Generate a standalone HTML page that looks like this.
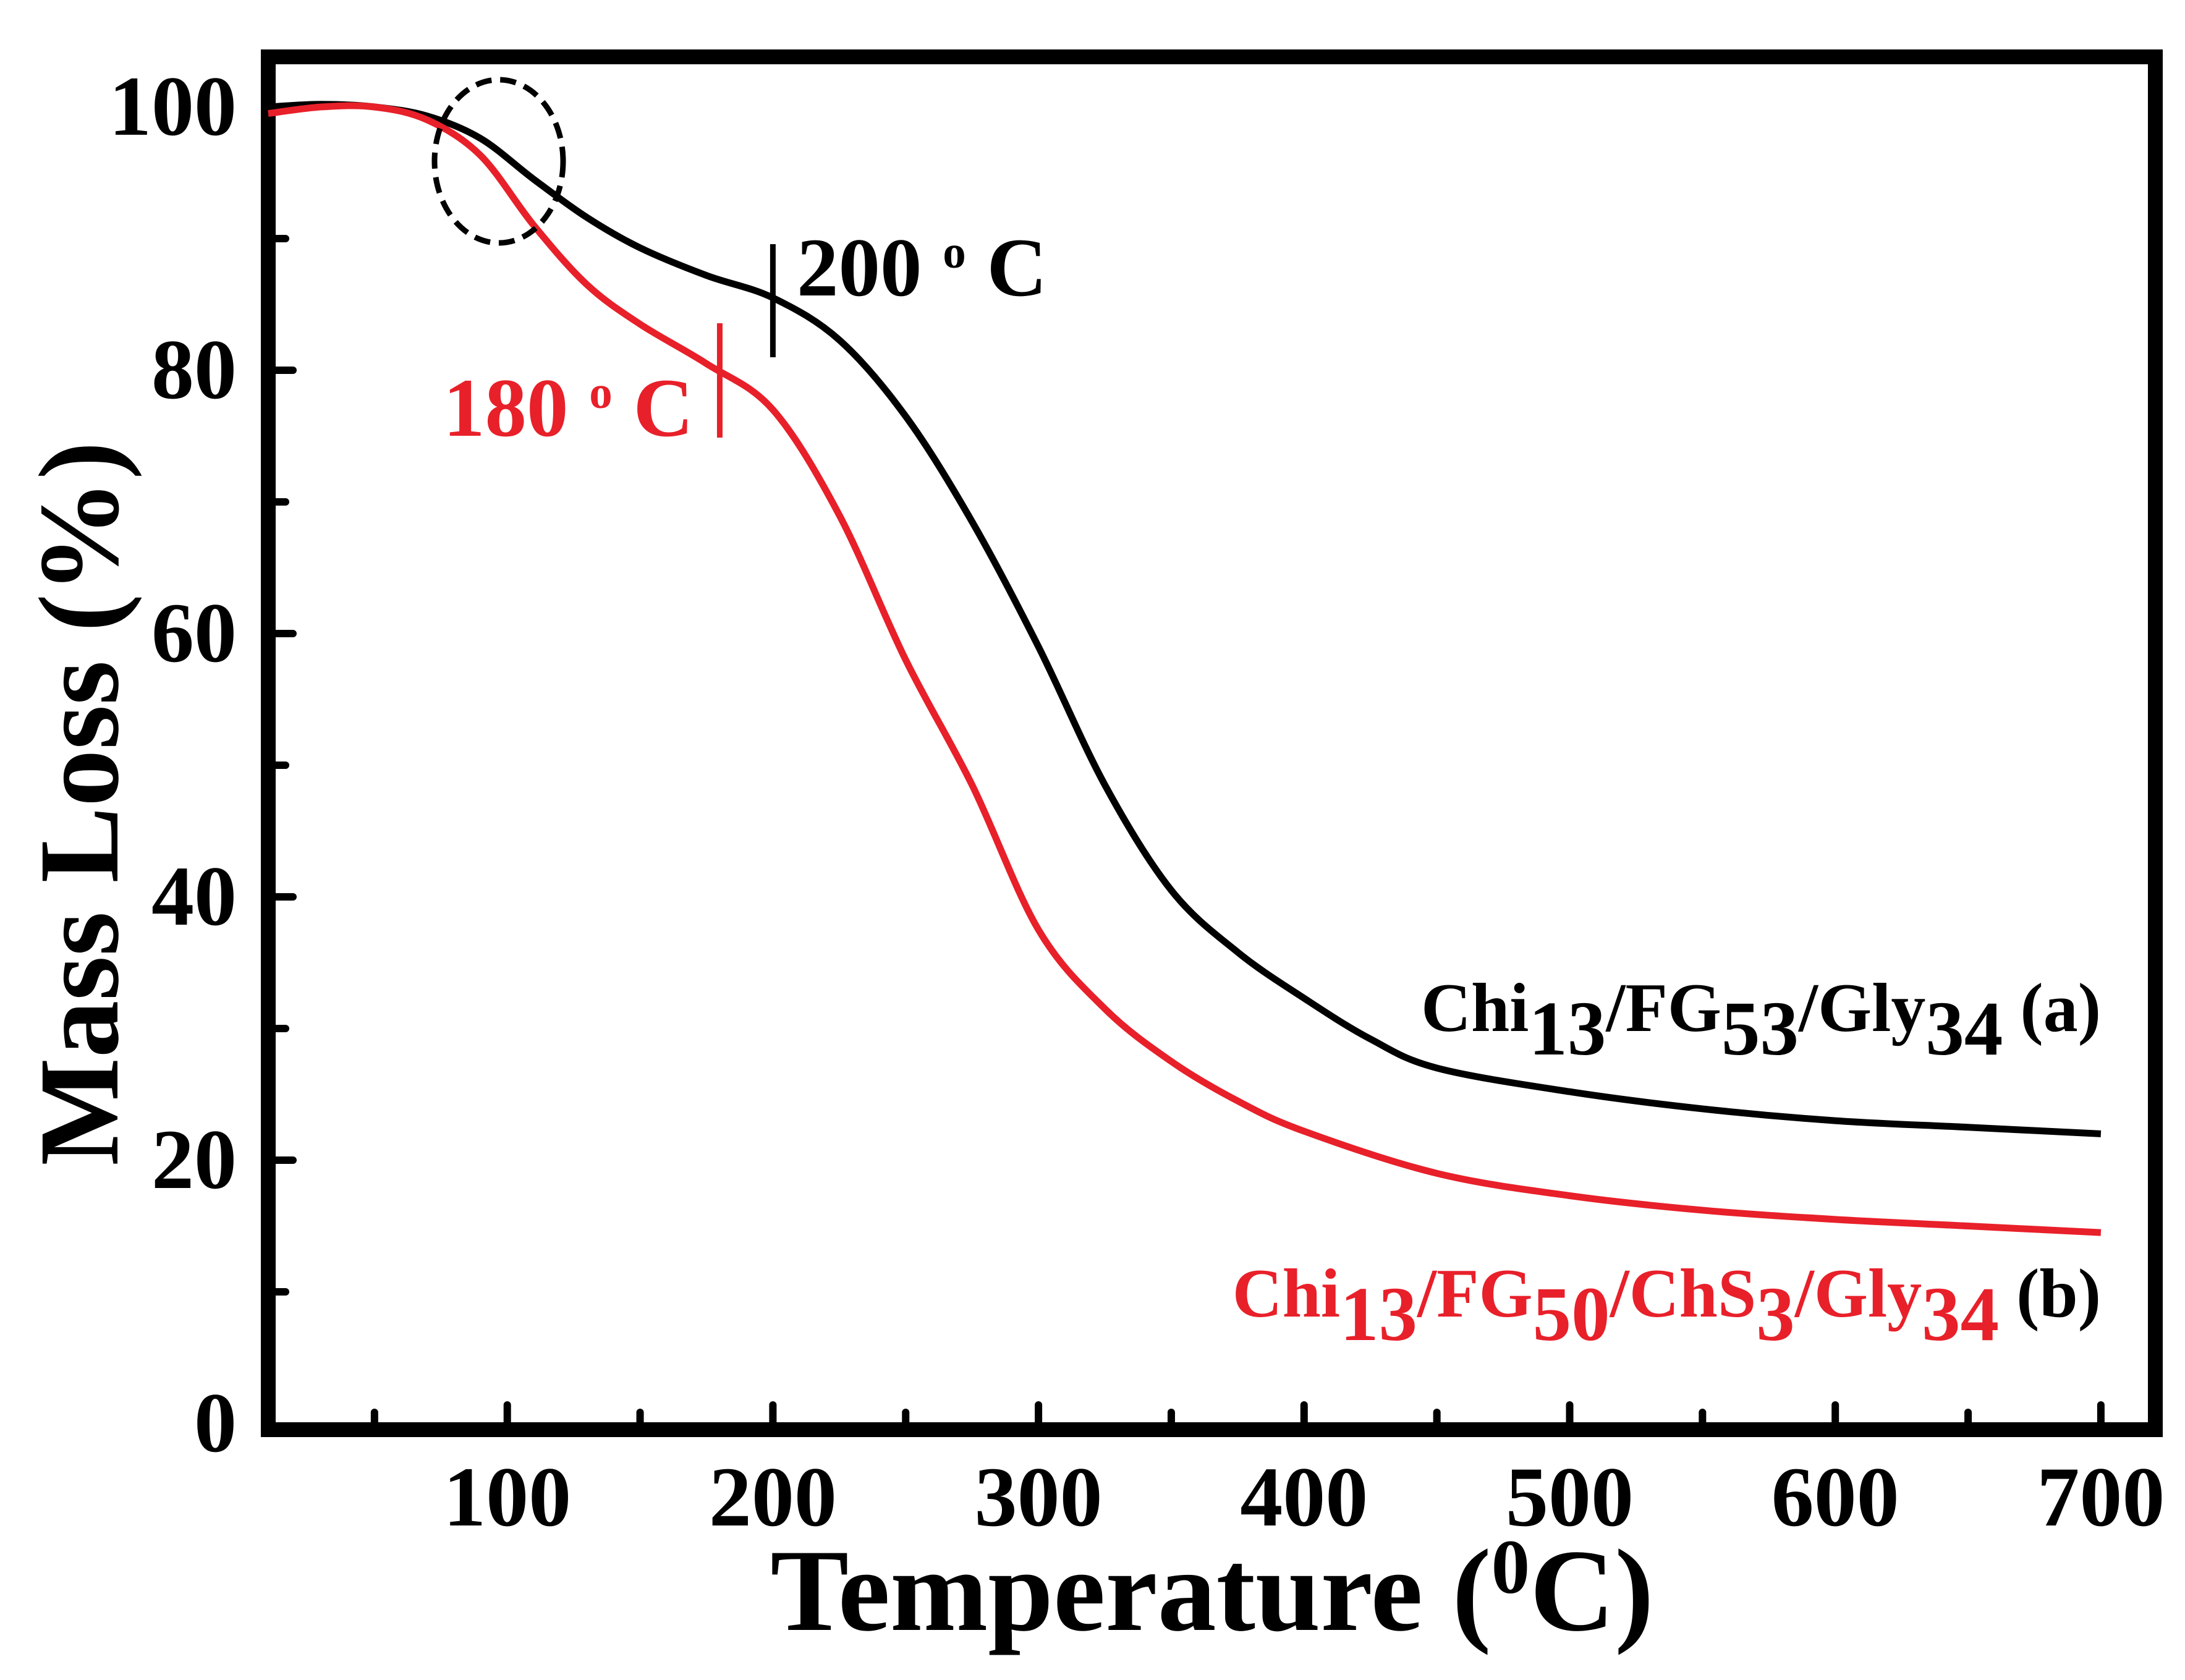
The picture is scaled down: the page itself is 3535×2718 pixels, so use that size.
<!DOCTYPE html>
<html><head><meta charset="utf-8"><style>
html,body{margin:0;padding:0;background:#fff;}
svg text{font-family:"Liberation Serif","Times New Roman",serif;font-weight:bold;}
</style></head><body>
<svg id="chart" width="3535" height="2713" viewBox="0 0 3535 2713" xmlns="http://www.w3.org/2000/svg" font-family="Liberation Serif, serif" font-weight="bold">
<rect width="3535" height="2713" fill="#fff"/>
<g id="axes"></g>
<g id="series"></g>
<g id="annot"></g>
</svg>
<script>
const xTicks=[100,200,300,400,500,600,700];
const yTicks=[0,20,40,60,80,100];
const tempA=[10,30,50,70,90,110,130,150,175,200,225,250,275,300,325,350,375,400,425,450,500,550,600,650,700];
const massA=[100,100.2,100,99.3,97.6,94.5,91.6,89.3,87.2,85.5,82.3,76.5,68.5,59,48.5,40.5,35.8,32.3,29.2,27,25.2,23.9,23,22.5,22];
const tempB=[10,30,50,70,90,110,130,150,175,200,225,250,275,300,325,350,375,400,450,500,550,600,650,700];
const massB=[99.5,100,100,99,96.3,91,86.5,83.5,80.5,77,69,58,48.5,37.5,31.5,27.5,24.5,22.2,19,17.3,16.2,15.5,15,14.5];
const X=v=>391+(v)*4.297, Y=v=>2303-v*21.3;
const NS="http://www.w3.org/2000/svg";
function mk(tag,attrs,parent){const e=document.createElementNS(NS,tag);for(const k in attrs)e.setAttribute(k,attrs[k]);parent.appendChild(e);return e;}
const axes=document.getElementById('axes');
let f=mk('rect',{x:434,y:92,width:3053,height:2221,fill:'none',stroke:'#000','stroke-width':24},axes);


for(let t=50;t<=700;t+=50){let major=t%100===0;let l=mk('line',{x1:X(t),x2:X(t),y1:2301,y2:2301-(major?28:16),stroke:'#000','stroke-width':12,'stroke-linecap':'round'},axes);

}
for(let v=10;v<=100;v+=10){let major=v%20===0;let l=mk('line',{x1:446,x2:446+(major?28:16),y1:Y(v),y2:Y(v),stroke:'#000','stroke-width':12,'stroke-linecap':'round'},axes);

}
xTicks.forEach(t=>{let e=mk('text',{x:X(t),y:2468,'font-size':138,'text-anchor':'middle'},axes);e.textContent=t;

});
yTicks.forEach(t=>{let e=mk('text',{x:383,y:Y(t)+45,'font-size':138,'text-anchor':'end'},axes);e.textContent=t;

});
let xt=mk('text',{x:1961,y:2637,'font-size':190,'text-anchor':'middle'},axes);
xt.innerHTML='Temperature (<tspan dy="-60" font-size="125">0</tspan><tspan dy="60">C)</tspan>';


let yt=mk('text',{x:0,y:0,'font-size':185,'text-anchor':'middle',transform:'translate(190,1300) rotate(-90)'},axes);
yt.textContent='Mass Loss (%)';


function path(ts,ms){const p=ts.map((t,i)=>[X(t),Y(ms[i])]);let d=`M${p[0][0]},${p[0][1]}`;
for(let i=0;i<p.length-1;i++){const p0=p[i-1]||p[i],p1=p[i],p2=p[i+1],p3=p[i+2]||p2;
d+=` C${p1[0]+(p2[0]-p0[0])/6},${p1[1]+(p2[1]-p0[1])/6} ${p2[0]-(p3[0]-p1[0])/6},${p2[1]-(p3[1]-p1[1])/6} ${p2[0]},${p2[1]}`;}return d;}
const ser=document.getElementById('series');
let pa=mk('path',{d:path(tempA,massA),fill:'none',stroke:'#000','stroke-width':11},ser);


let pb=mk('path',{d:path(tempB,massB),fill:'none',stroke:'#e8202a','stroke-width':11},ser);


const an=document.getElementById('annot');
let el=mk('ellipse',{cx:807,cy:261,rx:104,ry:132,fill:'none',stroke:'#000','stroke-width':9,'stroke-dasharray':'26 14'},an);


let m1=mk('line',{x1:X(200),x2:X(200),y1:395,y2:578,stroke:'#000','stroke-width':9},an);


let m2=mk('line',{x1:X(180),x2:X(180),y1:523,y2:708,stroke:'#e8202a','stroke-width':9},an);


let t1=mk('text',{x:1289,y:478,'font-size':135},an);
t1.innerHTML='200 <tspan dy="-45" font-size="75">o</tspan><tspan dy="45"> C</tspan>';


let t2=mk('text',{x:717,y:705,'font-size':135,fill:'#e8202a'},an);
t2.innerHTML='180 <tspan dy="-45" font-size="75">o</tspan><tspan dy="45"> C</tspan>';


let la=mk('text',{x:3399,y:1668,'font-size':112,'text-anchor':'end'},an);
la.innerHTML='Chi<tspan dy="38" font-size="125">13</tspan><tspan dy="-38">/FG</tspan><tspan dy="38" font-size="125">53</tspan><tspan dy="-38">/Gly</tspan><tspan dy="38" font-size="125">34</tspan><tspan dy="-38"> (a)</tspan>';


let lb=mk('text',{x:3399,y:2130,'font-size':112,'text-anchor':'end'},an);
lb.innerHTML='<tspan fill="#e8202a">Chi</tspan><tspan fill="#e8202a" dy="38" font-size="125">13</tspan><tspan fill="#e8202a" dy="-38">/FG</tspan><tspan fill="#e8202a" dy="38" font-size="125">50</tspan><tspan fill="#e8202a" dy="-38">/ChS</tspan><tspan fill="#e8202a" dy="38" font-size="125">3</tspan><tspan fill="#e8202a" dy="-38">/Gly</tspan><tspan fill="#e8202a" dy="38" font-size="125">34</tspan><tspan dy="-38"> (b)</tspan>';


</script>
</body></html>
